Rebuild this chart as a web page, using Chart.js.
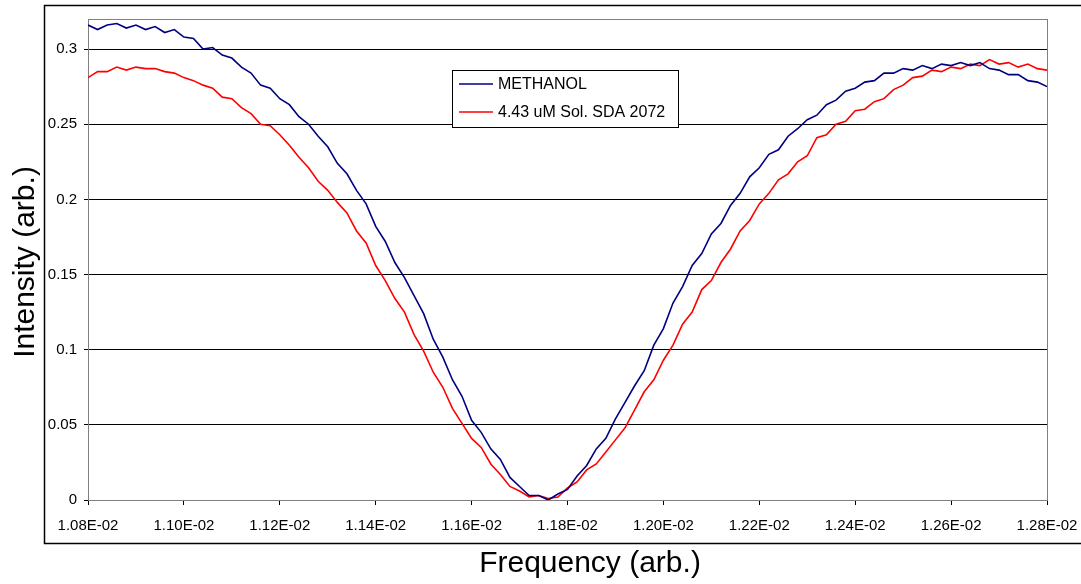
<!DOCTYPE html>
<html>
<head>
<meta charset="utf-8">
<script src="https://cdn.jsdelivr.net/npm/chart.js@4/dist/chart.umd.min.js"></script>
<style>
  html, body { margin: 0; padding: 0; background: #fff; }
  #wrap { width: 1081px; height: 584px; position: relative; }
</style>
</head>
<body>
<div id="wrap"><canvas id="chart"></canvas></div>
<script>
// frequency (arb.)
const freq = [
  0.01080, 0.01082, 0.01084, 0.01086, 0.01088, 0.01090, 0.01092, 0.01094, 0.01096, 0.01098,
  0.01100, 0.01102, 0.01104, 0.01106, 0.01108, 0.01110, 0.01112, 0.01114, 0.01116, 0.01118,
  0.01120, 0.01122, 0.01124, 0.01126, 0.01128, 0.01130, 0.01132, 0.01134, 0.01136, 0.01138,
  0.01140, 0.01142, 0.01144, 0.01146, 0.01148, 0.01150, 0.01152, 0.01154, 0.01156, 0.01158,
  0.01160, 0.01162, 0.01164, 0.01166, 0.01168, 0.01170, 0.01172, 0.01174, 0.01176, 0.01178,
  0.01180, 0.01182, 0.01184, 0.01186, 0.01188, 0.01190, 0.01192, 0.01194, 0.01196, 0.01198,
  0.01200, 0.01202, 0.01204, 0.01206, 0.01208, 0.01210, 0.01212, 0.01214, 0.01216, 0.01218,
  0.01220, 0.01222, 0.01224, 0.01226, 0.01228, 0.01230, 0.01232, 0.01234, 0.01236, 0.01238,
  0.01240, 0.01242, 0.01244, 0.01246, 0.01248, 0.01250, 0.01252, 0.01254, 0.01256, 0.01258,
  0.01260, 0.01262, 0.01264, 0.01266, 0.01268, 0.01270, 0.01272, 0.01274, 0.01276, 0.01278,
  0.01280
];

// METHANOL
const methanol = [
  0.316, 0.313, 0.316, 0.317, 0.314, 0.316, 0.313, 0.315, 0.311, 0.313,
  0.308, 0.307, 0.300, 0.301, 0.296, 0.294, 0.288, 0.284, 0.276, 0.274,
  0.267, 0.263, 0.255, 0.250, 0.242, 0.235, 0.224, 0.217, 0.206, 0.197,
  0.182, 0.172, 0.158, 0.148, 0.136, 0.124, 0.107, 0.095, 0.080, 0.069,
  0.053, 0.045, 0.034, 0.027, 0.015, 0.009, 0.003, 0.003, 0.000, 0.004,
  0.007, 0.016, 0.023, 0.034, 0.041, 0.054, 0.065, 0.076, 0.086, 0.103,
  0.114, 0.131, 0.142, 0.156, 0.164, 0.177, 0.184, 0.196, 0.204, 0.215,
  0.221, 0.230, 0.233, 0.242, 0.247, 0.253, 0.256, 0.263, 0.266, 0.272,
  0.274, 0.278, 0.279, 0.284, 0.284, 0.287, 0.286, 0.289, 0.287, 0.290,
  0.289, 0.291, 0.289, 0.291, 0.287, 0.286, 0.283, 0.283, 0.279, 0.278,
  0.275
];

// 4.43 uM Sol. SDA 2072
const sda = [
  0.281, 0.285, 0.285, 0.288, 0.286, 0.288, 0.287, 0.287, 0.285, 0.284,
  0.281, 0.279, 0.276, 0.274, 0.268, 0.267, 0.261, 0.257, 0.250, 0.249,
  0.243, 0.236, 0.228, 0.221, 0.212, 0.206, 0.198, 0.191, 0.179, 0.171,
  0.156, 0.146, 0.134, 0.125, 0.110, 0.099, 0.085, 0.075, 0.061, 0.051,
  0.041, 0.035, 0.024, 0.017, 0.009, 0.006, 0.002, 0.003, 0.001, 0.002,
  0.008, 0.012, 0.020, 0.024, 0.032, 0.040, 0.048, 0.060, 0.072, 0.080,
  0.093, 0.103, 0.117, 0.125, 0.140, 0.146, 0.158, 0.167, 0.179, 0.186,
  0.197, 0.204, 0.213, 0.217, 0.225, 0.229, 0.241, 0.243, 0.250, 0.252,
  0.259, 0.260, 0.265, 0.267, 0.273, 0.276, 0.281, 0.282, 0.286, 0.285,
  0.288, 0.287, 0.290, 0.289, 0.293, 0.290, 0.291, 0.288, 0.290, 0.287,
  0.286
];

const seriesNames = ['METHANOL', '4.43 uM Sol. SDA 2072'];
const seriesColors = ['#000080', '#ff0000'];
const xTitle = 'Frequency (arb.)';
const yTitle = 'Intensity (arb.)';

const FONT = "'Liberation Sans', Arial, sans-serif";

function toPoints(ys) {
  return freq.map((f, i) => ({ x: f, y: ys[i] }));
}

// Excel style 1.08E-02
function sciLabel(v) {
  let parts = v.toExponential(2).toUpperCase().split('E');
  let exp = parseInt(parts[1], 10);
  let e = String(Math.abs(exp)).padStart(2, '0');
  return parts[0] + 'E' + (exp < 0 ? '-' : '+') + e;
}

const decorPlugin = {
  id: 'decor',
  beforeDatasetsDraw(chart) {
    let ctx = chart.ctx;
    let a = chart.chartArea;
    ctx.save();
    ctx.strokeStyle = '#808080';
    ctx.lineWidth = 1;
    ctx.strokeRect(a.left + 0.5, a.top + 0.5, a.right - a.left, a.bottom - a.top);
    ctx.restore();
  },
  afterDraw(chart) {
    let ctx = chart.ctx;
    ctx.save();

    // outer border
    ctx.strokeStyle = '#000';
    ctx.lineWidth = 1.5;
    ctx.strokeRect(44.5, 5.5, 1100, 538);

    // axis titles
    ctx.fillStyle = '#000';
    ctx.font = '30px ' + FONT;
    ctx.textAlign = 'center';
    ctx.textBaseline = 'middle';
    ctx.fillText(xTitle, 590, 564);
    ctx.save();
    ctx.translate(26, 262);
    ctx.rotate(-Math.PI / 2);
    ctx.fillText(yTitle, 0, 0);
    ctx.restore();

    // legend
    let bx = 452.5, by = 70.5, bw = 226, bh = 57;
    ctx.fillStyle = '#fff';
    ctx.fillRect(bx, by, bw, bh);
    ctx.strokeStyle = '#000';
    ctx.lineWidth = 1;
    ctx.strokeRect(bx, by, bw, bh);
    ctx.font = '16px ' + FONT;
    ctx.textAlign = 'left';
    let rows = [84, 112];
    seriesNames.forEach((name, i) => {
      ctx.strokeStyle = seriesColors[i];
      ctx.lineWidth = 1.5;
      ctx.beginPath();
      ctx.moveTo(459, rows[i]);
      ctx.lineTo(493, rows[i]);
      ctx.stroke();
      ctx.fillStyle = '#000';
      ctx.fillText(name, 498, rows[i] + 1);
    });
    ctx.restore();
  }
};

const ctx = document.getElementById('chart').getContext('2d');
new Chart(ctx, {
  type: 'line',
  data: {
    datasets: [
      { label: seriesNames[0], data: toPoints(methanol), borderColor: seriesColors[0], borderWidth: 1.6, pointRadius: 0, fill: false, tension: 0 },
      { label: seriesNames[1], data: toPoints(sda), borderColor: seriesColors[1], borderWidth: 1.6, pointRadius: 0, fill: false, tension: 0 }
    ]
  },
  options: {
    responsive: true,
    maintainAspectRatio: false,
    animation: false,
    layout: { padding: { left: 0, right: 34, top: 19, bottom: 0 } },
    plugins: { legend: { display: false }, tooltip: { enabled: false } },
    scales: {
      x: {
        type: 'linear',
        min: 0.0108,
        max: 0.0128,
        afterFit(scale) {
          scale.height = 84;
          scale.paddingLeft = 0;
          scale.paddingRight = 0;
        },
        ticks: {
          stepSize: 0.0002,
          color: '#000',
          font: { family: FONT, size: 15 },
          padding: 12,
          maxRotation: 0,
          autoSkip: false,
          callback: v => sciLabel(v)
        },
        grid: { drawOnChartArea: false, drawTicks: true, tickLength: 5, color: '#000' },
        border: { color: '#555', width: 1 }
      },
      y: {
        min: 0,
        max: 0.32,
        afterFit(scale) { scale.width = 88; },
        afterBuildTicks(scale) {
          scale.ticks = scale.ticks.filter(t => Math.abs(t.value * 20 - Math.round(t.value * 20)) < 1e-6);
        },
        ticks: {
          stepSize: 0.05,
          color: '#000',
          font: { family: FONT, size: 15 },
          padding: 7,
          callback: v => String(+v.toFixed(2))
        },
        grid: { color: '#000', lineWidth: 1, tickLength: 4 },
        border: { color: '#000', width: 1 }
      }
    }
  },
  plugins: [decorPlugin]
});
</script>
</body>
</html>
